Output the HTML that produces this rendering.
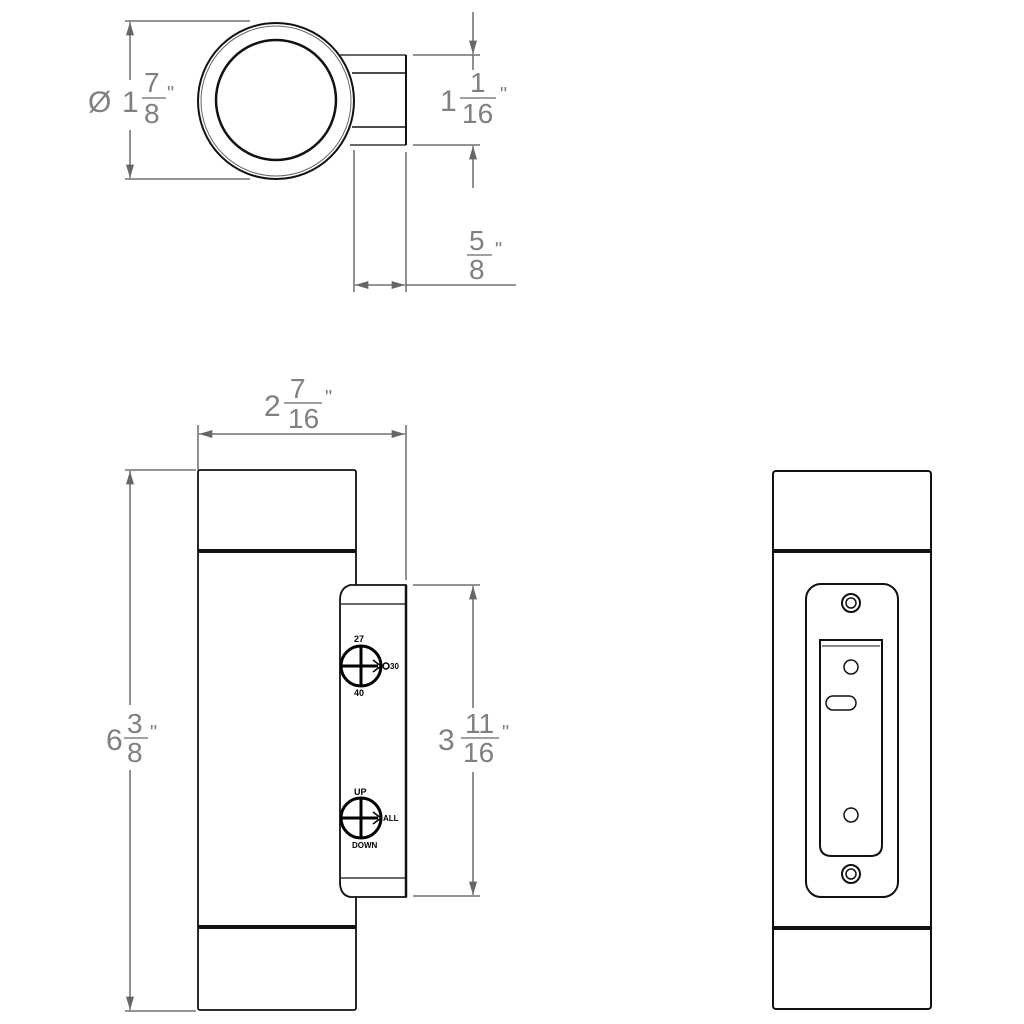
<!DOCTYPE html>
<html><head><meta charset="utf-8"><style>
html,body{margin:0;padding:0;background:#fff;width:1024px;height:1024px;overflow:hidden}
svg{display:block}
.d{font-family:"Liberation Sans",sans-serif;fill:#808080;font-weight:normal}
.k{font-family:"Liberation Sans",sans-serif;font-weight:bold;fill:#000}
</style></head><body>
<svg width="1024" height="1024" viewBox="0 0 1024 1024" xmlns="http://www.w3.org/2000/svg">
<defs>
<marker id="a" viewBox="0 0 10 6" refX="10" refY="3" markerWidth="20" markerHeight="8" markerUnits="userSpaceOnUse" orient="auto"><path d="M0,0 L10,3 L0,6 z" fill="#666"/></marker>
</defs>
<g stroke="#555" stroke-width="1.3" fill="none">
<line x1="125" y1="21" x2="250" y2="21"/>
<line x1="125" y1="179" x2="250" y2="179"/>
<line x1="130" y1="80" x2="130" y2="22" marker-end="url(#a)"/>
<line x1="130" y1="130" x2="130" y2="178" marker-end="url(#a)"/>
<line x1="413" y1="55" x2="480" y2="55"/>
<line x1="413" y1="145" x2="480" y2="145"/>
<line x1="473" y1="12" x2="473" y2="54" marker-end="url(#a)"/>
<line x1="473" y1="188" x2="473" y2="146" marker-end="url(#a)"/>
<line x1="473" y1="55" x2="473" y2="70"/>
<line x1="354" y1="150" x2="354" y2="292"/>
<line x1="406" y1="152" x2="406" y2="292"/>
<line x1="406" y1="285" x2="516" y2="285"/>
<line x1="380" y1="285" x2="355" y2="285" marker-end="url(#a)"/>
<line x1="380" y1="285" x2="405" y2="285" marker-end="url(#a)"/>
<line x1="198" y1="425" x2="198" y2="470"/>
<line x1="406" y1="425" x2="406" y2="580"/>
<line x1="300" y1="434" x2="199" y2="434" marker-end="url(#a)"/>
<line x1="300" y1="434" x2="405" y2="434" marker-end="url(#a)"/>
<line x1="125" y1="470" x2="196" y2="470"/>
<line x1="125" y1="1011" x2="196" y2="1011"/>
<line x1="130" y1="705" x2="130" y2="471" marker-end="url(#a)"/>
<line x1="130" y1="770" x2="130" y2="1010" marker-end="url(#a)"/>
<line x1="413" y1="585" x2="480" y2="585"/>
<line x1="413" y1="896" x2="480" y2="896"/>
<line x1="473" y1="708" x2="473" y2="586" marker-end="url(#a)"/>
<line x1="473" y1="772" x2="473" y2="895" marker-end="url(#a)"/>
</g>
<g class="d">
<text x="88" y="112" font-size="30">Ø</text>
<text x="122" y="112" font-size="30">1</text>
<text x="144" y="92" font-size="28">7</text><line x1="142" y1="98" x2="166" y2="98" stroke="#808080" stroke-width="1.5"/><text x="144" y="123" font-size="28">8</text>
<text x="167" y="100" font-size="20">"</text>
<text x="440" y="111" font-size="30">1</text>
<text x="470" y="92" font-size="28">1</text><line x1="460" y1="98" x2="496" y2="98" stroke="#808080" stroke-width="1.5"/><text x="462" y="123" font-size="28">16</text>
<text x="500" y="101" font-size="20">"</text>
<text x="469" y="250" font-size="28">5</text><line x1="467" y1="255" x2="492" y2="255" stroke="#808080" stroke-width="1.5"/><text x="469" y="279" font-size="28">8</text>
<text x="495" y="256" font-size="20">"</text>
<text x="264" y="416" font-size="30">2</text>
<text x="290" y="398" font-size="28">7</text><line x1="284" y1="403" x2="322" y2="403" stroke="#808080" stroke-width="1.5"/><text x="288" y="428" font-size="28">16</text>
<text x="325" y="404" font-size="20">"</text>
<text x="106" y="750" font-size="30">6</text>
<text x="127" y="733" font-size="28">3</text><line x1="124" y1="738" x2="148" y2="738" stroke="#808080" stroke-width="1.5"/><text x="127" y="762" font-size="28">8</text>
<text x="150" y="739" font-size="20">"</text>
<text x="438" y="750" font-size="30">3</text>
<text x="465" y="733" font-size="28">11</text><line x1="461" y1="738" x2="499" y2="738" stroke="#808080" stroke-width="1.5"/><text x="463" y="762" font-size="28">16</text>
<text x="502" y="739" font-size="20">"</text>
</g>
<g stroke="#111" fill="none">
<line x1="340" y1="55" x2="406" y2="55" stroke-width="1.3"/>
<line x1="352" y1="73" x2="406" y2="73" stroke-width="1.5"/>
<line x1="352" y1="127" x2="406" y2="127" stroke-width="1.5"/>
<line x1="350" y1="145" x2="406" y2="145" stroke-width="1.3"/>
<line x1="406" y1="55" x2="406" y2="145" stroke-width="2"/>
<circle cx="276" cy="101" r="78" stroke-width="2" fill="#fff"/>
<circle cx="276" cy="101" r="75" stroke-width="1" stroke="#666"/>
<circle cx="276" cy="100" r="60" stroke-width="2.5"/>
</g>
<g stroke="#111" fill="none" stroke-width="1.8">
<rect x="198" y="470" width="158" height="540" rx="2"/>
<line x1="198" y1="551" x2="356" y2="551" stroke-width="4"/>
<line x1="198" y1="927" x2="356" y2="927" stroke-width="4"/>
<path d="M406,585 L350,585 Q340,588 340,600 L340,882 Q340,895 350,897 L406,897 Z" fill="#fff"/>
<line x1="341" y1="604" x2="406" y2="604" stroke-width="1.3"/>
<line x1="341" y1="878" x2="406" y2="878" stroke-width="1.3"/>
<line x1="406" y1="585" x2="406" y2="897" stroke-width="2.5"/>
</g>
<g stroke="#000" fill="none" stroke-width="3">
<circle cx="361" cy="666" r="20"/>
<line x1="341" y1="666" x2="378" y2="666"/><line x1="361" y1="646" x2="361" y2="686"/>
<circle cx="361" cy="818" r="20"/>
<line x1="341" y1="818" x2="378" y2="818"/><line x1="361" y1="798" x2="361" y2="838"/>
</g>
<g stroke="#000" fill="none" stroke-width="1.5">
<path d="M373,660 L381,666 L373,672"/><circle cx="386" cy="666" r="3"/>
<path d="M373,812 L381,818 L373,824"/>
</g>
<g class="k">
<text x="354" y="642" font-size="9">27</text>
<text x="390" y="669" font-size="8">30</text>
<text x="354" y="696" font-size="9">40</text>
<text x="354" y="795" font-size="9">UP</text>
<text x="383" y="821" font-size="8">ALL</text>
<text x="352" y="848" font-size="8">DOWN</text>
</g>
<g stroke="#111" fill="none" stroke-width="2">
<rect x="773" y="471" width="158" height="538" rx="3"/>
<line x1="773" y1="551" x2="931" y2="551" stroke-width="4"/>
<line x1="773" y1="928" x2="931" y2="928" stroke-width="4"/>
<rect x="806" y="584" width="92" height="313" rx="15"/>
<path d="M820,640 L882,640 L882,845 Q882,856 870,856 L832,856 Q820,856 820,845 Z"/>
<line x1="822" y1="646" x2="880" y2="646" stroke-width="1"/>
<circle cx="851" cy="603" r="9"/><circle cx="851" cy="603" r="5" stroke-width="1.5"/>
<circle cx="851" cy="874" r="9"/><circle cx="851" cy="874" r="5" stroke-width="1.5"/>
<circle cx="851" cy="667" r="7" stroke-width="1.5"/>
<circle cx="851" cy="815" r="7" stroke-width="1.5"/>
<rect x="826" y="696" width="30" height="14" rx="7" stroke-width="1.5"/>
</g>
</svg>
</body></html>
